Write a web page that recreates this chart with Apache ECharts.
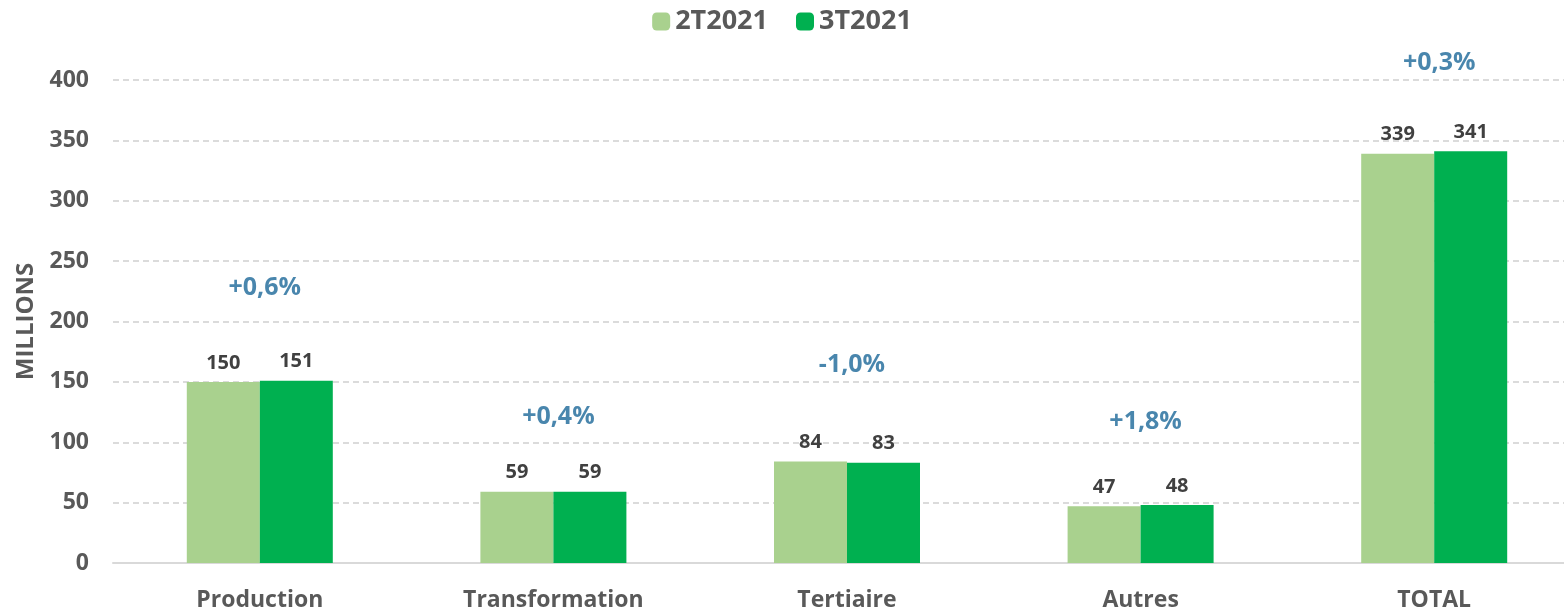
<!DOCTYPE html>
<html>
<head>
<meta charset="utf-8">
<script src="https://cdn.jsdelivr.net/npm/echarts@6/dist/echarts.min.js"></script>
<style>
  html, body { margin: 0; padding: 0; background: #fff; }
  #main { width: 1564px; height: 611px; }
</style>
</head>
<body>
<div id="main"></div>
<script>
var categories = ['Production', 'Transformation', 'Tertiaire', 'Autres', 'TOTAL'];
var q2 = [150, 59, 84, 47, 339];
var q3 = [151, 59, 83, 48, 341];
var variations = ['+0,6%', '+0,4%', '-1,0%', '+1,8%', '+0,3%'];
// height (in millions) where each variation label sits
var variationLevel = [228, 121, 164, 117, 414];

var fontFamily = '"Open Sans", sans-serif';

var myChart = echarts.init(document.getElementById('main'));

var barLabel = {
    show: true,
    position: 'top',
    distance: 9,
    color: '#404040',
    fontSize: 20,
    fontWeight: 'bold',
    fontFamily: fontFamily
};

var varData = [];
for (var i = 0; i < categories.length; i++) {
    varData.push({ value: [i, variationLevel[i]], label: { formatter: variations[i] } });
}

var option = {
    animation: false,
    textStyle: { fontFamily: fontFamily },
    legend: {
        top: 3,
        left: 'center',
        itemWidth: 18,
        itemHeight: 18,
        itemGap: 28,
        data: ['2T2021', '3T2021'],
        textStyle: { color: '#595959', fontSize: 27, fontWeight: 'bold', fontFamily: fontFamily }
    },
    grid: { left: 113, top: 80, width: 1468, height: 483, outerBoundsMode: 'none' },
    xAxis: {
        type: 'category',
        data: categories,
        axisTick: { show: false },
        axisLine: { lineStyle: { color: '#D9D9D9', width: 2 } },
        axisLabel: { color: '#595959', fontSize: 23, fontWeight: 'bold', margin: 26, fontFamily: fontFamily }
    },
    yAxis: {
        type: 'value',
        min: 0,
        max: 400,
        interval: 50,
        name: 'MILLIONS',
        nameLocation: 'middle',
        nameGap: 75,
        nameTextStyle: { color: '#595959', fontSize: 24, fontWeight: 'bold', fontFamily: fontFamily },
        axisLine: { show: false },
        axisTick: { show: false },
        axisLabel: { color: '#595959', fontSize: 23, fontWeight: 'bold', margin: 24, fontFamily: fontFamily },
        splitLine: { lineStyle: { color: '#D0D0D0', type: [6, 4], width: 1.5 } }
    },
    series: [
        {
            name: '2T2021',
            type: 'bar',
            data: q2,
            barWidth: 73,
            barGap: '0%',
            itemStyle: { color: '#A9D18E' },
            label: barLabel
        },
        {
            name: '3T2021',
            type: 'bar',
            data: q3,
            barWidth: 73,
            itemStyle: { color: '#00B050' },
            label: barLabel
        },
        {
            name: 'variation',
            type: 'scatter',
            data: varData,
            symbolSize: 1,
            clip: false,
            itemStyle: { color: 'rgba(0,0,0,0)' },
            label: {
                show: true,
                position: 'inside',
                offset: [5, 0],
                color: '#1B6898',
                fontSize: 25,
                fontWeight: 'bold',
                fontFamily: fontFamily
            },
            silent: true
        }
    ]
};

myChart.setOption(option);
</script>
</body>
</html>
